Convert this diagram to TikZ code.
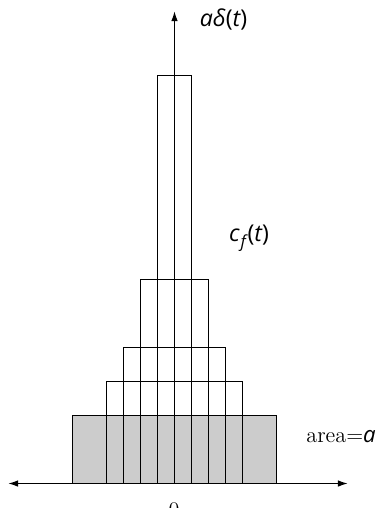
\documentclass[tikz,border=0pt]{standalone}
\usepackage{fontspec}
\newfontfamily\sfmath{Open Sans}
\usetikzlibrary{arrows.meta}
\tikzset{
  bar/.style={draw=black, line width=0.8pt},
  grayblock/.style={draw=black, fill=black!20, line width=0.8pt},
  axis/.style={line width=0.8pt, -{Latex[length=5.5pt,width=3.6pt]}},
  lbl/.style={inner sep=0pt, font=\sfmath\fontsize{12.5}{15}\selectfont},
  serif/.style={inner sep=0pt, font=\fontsize{12}{14}\selectfont}
}
\begin{document}
\begin{tikzpicture}[x=0.54pt, y=-0.54pt]
\useasboundingbox (0,0) rectangle (379,508);
% widths 34k, heights 408/k
\draw[grayblock] (72.5,483.5) rectangle (276.5,415.5);
\draw[bar] (106.5,483.5) rectangle (242.5,381.5);
\draw[bar] (123.5,483.5) rectangle (225.5,347.5);
\draw[bar] (140.5,483.5) rectangle (208.5,279.5);
\draw[bar] (157.5,483.5) rectangle (191.5,75.5);
% axes
\coordinate (O) at (174.5,483.5);
\coordinate (top) at (174.5,11);
\coordinate (left) at (8,483.5);
\coordinate (right) at (348,483.5);
\draw[axis] (O) -- (top);
\draw[axis] (O) -- (left);
\draw[axis] (O) -- (right);
% labels
\node[lbl] (delta) at (223.5,19) {\itshape aδ\upshape(\itshape t\upshape)};
\node[lbl] (cf) at (249,238) {\itshape c\kern0.5pt\raisebox{-0.45ex}{\fontsize{9}{10}\selectfont f}\kern1pt\upshape(\itshape t\upshape)};
\node[serif, anchor=west] (area) at (306,437) {area$=${\sfmath\itshape a}};
\node[serif, anchor=base] (zero) at (174,517) {0};
\end{tikzpicture}
\end{document}
